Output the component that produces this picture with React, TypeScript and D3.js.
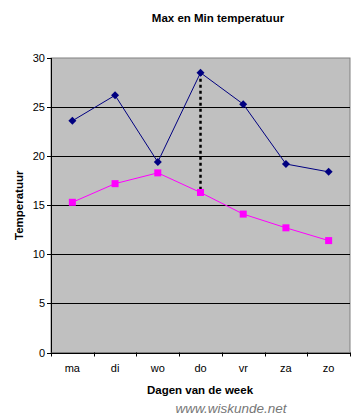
import React from "react";
import * as d3 from "d3";

const days = ["ma", "di", "wo", "do", "vr", "za", "zo"];
const maxTemp = [23.6, 26.2, 19.4, 28.5, 25.3, 19.2, 18.4];
const minTemp = [15.3, 17.2, 18.3, 16.3, 14.1, 12.7, 11.4];
const yTicks = [0, 5, 10, 15, 20, 25, 30];
const highlightDay = "do";

export default function App() {
  const W = 360, H = 416;
  const left = 51, right = 350, top = 58, bottom = 352.5;
  const x = d3.scaleBand<string>().domain(days).range([left, right]);
  const y = d3.scaleLinear().domain([0, 30]).range([bottom, top]);
  const cx = (d: string) => (x(d) as number) + x.bandwidth() / 2;
  const line = d3.line<number>().x((_, i) => cx(days[i])).y((v) => y(v));
  const font = "Arial, 'Liberation Sans', sans-serif";
  const hi = days.indexOf(highlightDay);
  const boundaries = days.map((d) => x(d) as number).concat([right]);
  return (
    <svg width={W} height={H} style={{ position: "absolute", left: 0, top: 0 }} fontFamily={font}>
      <rect x={0} y={0} width={W} height={H} fill="#fff" />
      <text x={218} y={22} textAnchor="middle" fontSize={11.5} fontWeight="bold" fill="#000">Max en Min temperatuur</text>
      <rect x={left} y={top} width={right - left} height={bottom - top} fill="#C0C0C0" stroke="#808080" strokeWidth={1} />
      {yTicks.filter((t) => t > 0 && t < 30).map((t) => (
        <line key={t} x1={left} x2={right} y1={Math.round(y(t)) + 0.5} y2={Math.round(y(t)) + 0.5} stroke="#000" strokeWidth={1} />
      ))}
      <line x1={left + 0.5} x2={left + 0.5} y1={top} y2={bottom} stroke="#000" />
      <line x1={left} x2={right} y1={Math.round(bottom) + 0.5} y2={Math.round(bottom) + 0.5} stroke="#000" />
      {yTicks.map((t) => (
        <g key={t}>
          <line x1={left - 4} x2={left} y1={Math.round(y(t)) + 0.5} y2={Math.round(y(t)) + 0.5} stroke="#000" />
          <text x={left - 6} y={y(t) + 4} textAnchor="end" fontSize={11} fill="#000">{t}</text>
        </g>
      ))}
      {boundaries.map((b, i) => (
        <line key={i} x1={Math.round(b) + 0.5} x2={Math.round(b) + 0.5} y1={bottom} y2={bottom + 4} stroke="#000" />
      ))}
      {days.map((d) => (
        <text key={d} x={cx(d)} y={372} textAnchor="middle" fontSize={11} fill="#000">{d}</text>
      ))}
      <line x1={cx(highlightDay)} x2={cx(highlightDay)} y1={y(maxTemp[hi])} y2={y(minTemp[hi])} stroke="#000" strokeWidth={2.5} strokeDasharray="3,3" />
      <path d={line(maxTemp) || ""} fill="none" stroke="#000080" strokeWidth={1} />
      <path d={line(minTemp) || ""} fill="none" stroke="#FF00FF" strokeWidth={1} />
      {maxTemp.map((v, i) => {
        const px = cx(days[i]), py = y(v), s = 4;
        return <path key={i} d={`M${px},${py - s}L${px + s},${py}L${px},${py + s}L${px - s},${py}Z`} fill="#000080" />;
      })}
      {minTemp.map((v, i) => (
        <rect key={i} x={cx(days[i]) - 3.5} y={y(v) - 3.5} width={7} height={7} fill="#FF00FF" />
      ))}
      <text transform={`translate(23,${(top + bottom) / 2}) rotate(-90)`} textAnchor="middle" fontSize={11.5} fontWeight="bold" fill="#000">Temperatuur</text>
      <text x={200} y={394} textAnchor="middle" fontSize={11.5} fontWeight="bold" fill="#000">Dagen van de week</text>
      <text x={231} y={413} textAnchor="middle" fontSize={13.5} fontStyle="italic" fill="#777">www.wiskunde.net</text>
    </svg>
  );
}
